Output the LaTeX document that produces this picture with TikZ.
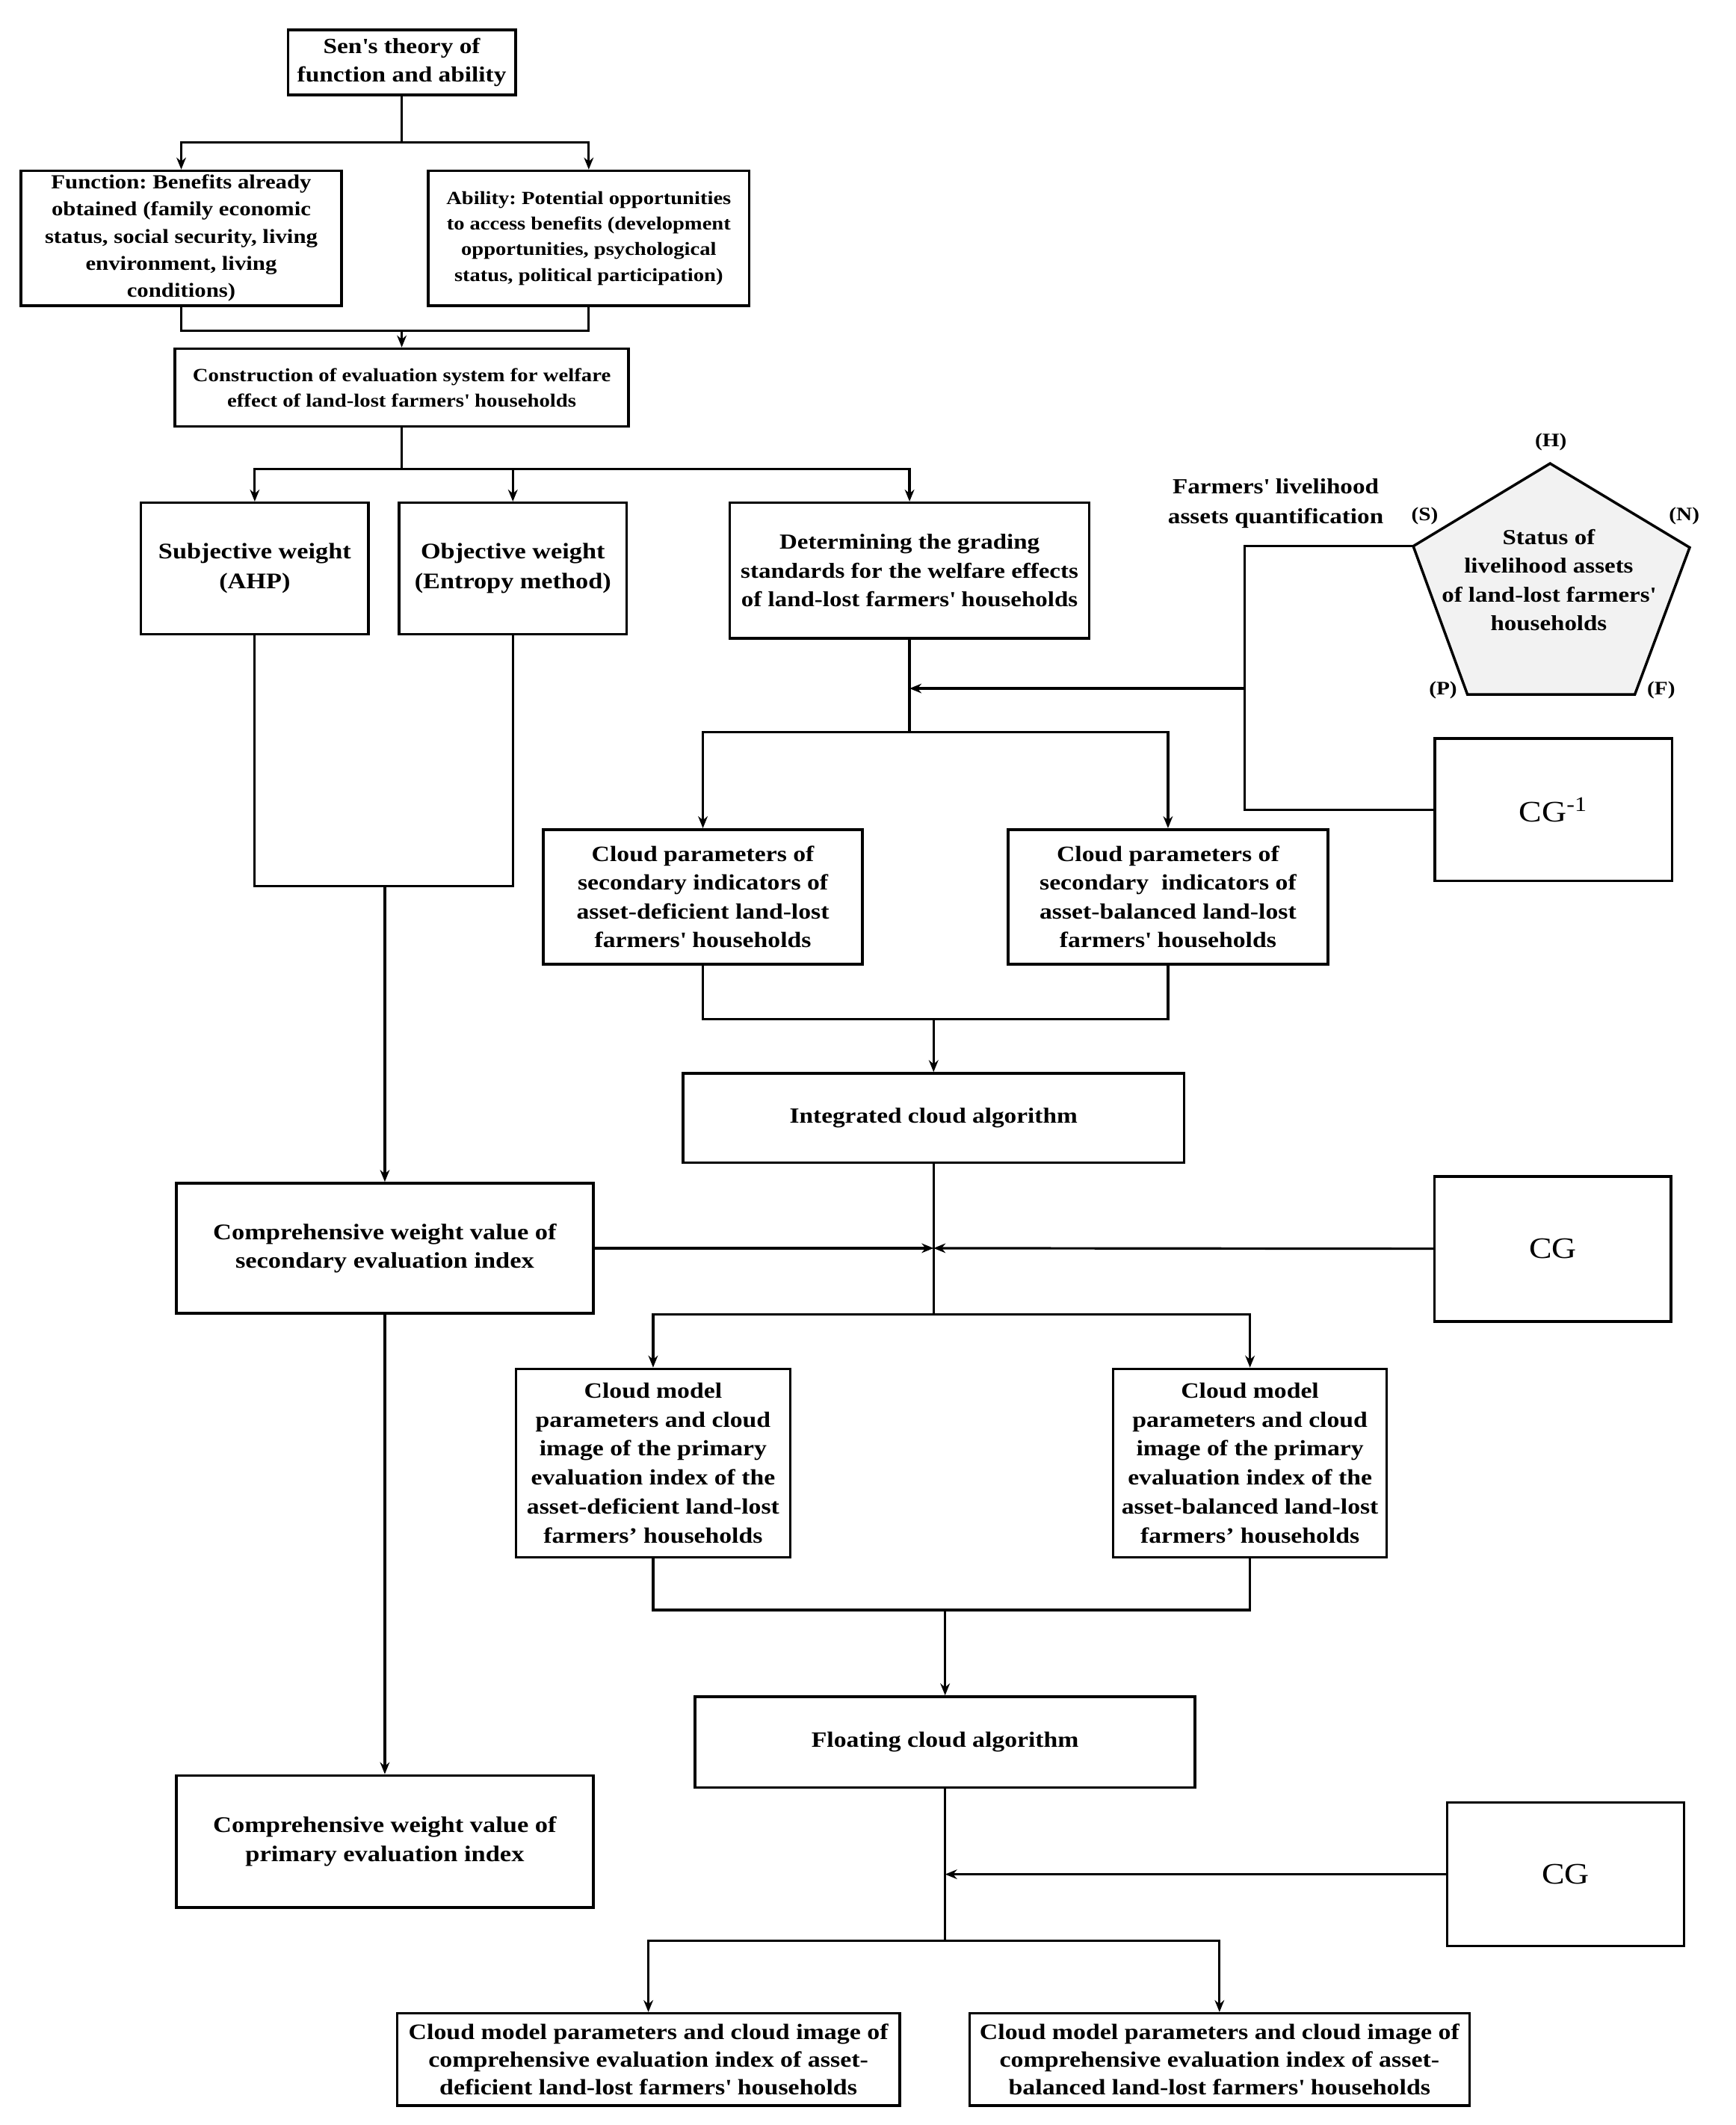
\documentclass[tikz,border=0pt]{standalone}
\usepackage{fontspec}
\setmainfont[FakeStretch=1.15]{Liberation Serif}
\usetikzlibrary{arrows.meta}

\newcommand{\boxfont}[2]{\bfseries\fontsize{#1}{#2}\selectfont}
\newcommand{\sq}{\textquotesingle}
\frenchspacing

\begin{document}
\begin{tikzpicture}[x=0.02cm, y=-0.02cm, >={Stealth[length=5pt,width=4pt]},
    box/.style={draw, line width=1.1pt, align=center, inner sep=1pt},
    conn/.style={line width=1pt},
    tag/.style={font=\boxfont{8}{9}}]
    \useasboundingbox (0,0) rectangle (1281,1568);

    % theory and its two sides
    \node[box, minimum width=3.36cm, minimum height=0.96cm, font=\boxfont{9.1}{12}] (sen) at (296.5,46) {Sen\sq s theory of\\function and ability};
    \node[box, minimum width=4.73cm, minimum height=1.99cm, font=\boxfont{8.4}{11.4}] (func) at (133.75,175.75) {Function: Benefits already\\obtained (family economic\\status, social security, living\\environment, living\\conditions)};
    \node[box, minimum width=4.74cm, minimum height=1.99cm, font=\boxfont{7.8}{10.8}] (abil) at (434.5,175.75) {Ability: Potential opportunities\\to access benefits (development\\opportunities, psychological\\status, political participation)};
    \node[box, minimum width=6.70cm, minimum height=1.15cm, font=\boxfont{7.85}{10.8}] (cons) at (296.5,286) {Construction of evaluation system for welfare\\effect of land-lost farmers\sq{} households};

    % weights and grading standards
    \node[box, minimum width=3.36cm, minimum height=1.94cm, font=\boxfont{9.35}{12.5}] (subj) at (188,419.5) {Subjective weight\\(AHP)};
    \node[box, minimum width=3.36cm, minimum height=1.94cm, font=\boxfont{9.35}{12.5}] (obj) at (378.5,419.5) {Objective weight\\(Entropy method)};
    \node[box, minimum width=5.31cm, minimum height=2.00cm, font=\boxfont{9}{12}] (grad) at (671.25,421) {Determining the grading\\standards for the welfare effects\\of land-lost farmers\sq{} households};

    % livelihood assets pentagon
    \coordinate (H) at (1144,342);
    \coordinate (N) at (1247,404);
    \coordinate (F) at (1206.5,512.5);
    \coordinate (P) at (1083,512.5);
    \coordinate (S) at (1043,403);
    \draw[line width=1.1pt, fill=gray!10] (H) -- (N) -- (F) -- (P) -- (S) -- cycle;
    \node[align=center, font=\boxfont{9}{12.1}] (status) at (1143,428) {Status of\\livelihood assets\\of land-lost farmers\sq\\households};
    \node[tag] (hlab) at (1144.6,326) {(H)};
    \node[tag] (slab) at (1051.5,381) {(S)};
    \node[tag] (nlab) at (1243,381) {(N)};
    \node[tag] (plab) at (1065,509.5) {(P)};
    \node[tag] (flab) at (1226,509.5) {(F)};
    \node[align=center, font=\boxfont{9.05}{12.3}] (quant) at (941.5,371.5) {Farmers\sq{} livelihood\\assets quantification};
    \node[box, minimum width=3.50cm, minimum height=2.10cm, font=\fontsize{12.5}{14}\selectfont] (cginv) at (1146.5,597.5) {CG\textsuperscript{-1}};

    % secondary indicators
    \node[box, minimum width=4.71cm, minimum height=1.99cm, font=\boxfont{9.2}{12}] (cpdef) at (518.75,661.8) {Cloud parameters of\\secondary indicators of\\asset-deficient land-lost\\farmers\sq{} households};
    \node[box, minimum width=4.72cm, minimum height=1.99cm, font=\boxfont{9.2}{12}] (cpbal) at (862,661.8) {Cloud parameters of\\secondary\ \ indicators of\\asset-balanced land-lost\\farmers\sq{} households};
    \node[box, minimum width=7.40cm, minimum height=1.32cm, font=\boxfont{9.1}{12}] (ica) at (689,825) {Integrated cloud algorithm};
    \node[box, minimum width=6.16cm, minimum height=1.92cm, font=\boxfont{9.4}{12}] (cwsec) at (284,921) {Comprehensive weight value of\\secondary evaluation index};
    \node[box, minimum width=3.49cm, minimum height=2.14cm, font=\fontsize{12.5}{14}\selectfont] (cgone) at (1146,921.5) {CG};

    % primary indicators
    \node[box, minimum width=4.05cm, minimum height=2.78cm, font=\boxfont{9.2}{12.2}] (cmdef) at (482,1079.5) {Cloud model\\parameters and cloud\\image of the primary\\evaluation index of the\\asset-deficient land-lost\\farmers' households};
    \node[box, minimum width=4.04cm, minimum height=2.78cm, font=\boxfont{9.2}{12.2}] (cmbal) at (922.5,1079.5) {Cloud model\\parameters and cloud\\image of the primary\\evaluation index of the\\asset-balanced land-lost\\farmers' households};
    \node[box, minimum width=7.38cm, minimum height=1.34cm, font=\boxfont{9.2}{12}] (fca) at (697.5,1285.4) {Floating cloud algorithm};
    \node[box, minimum width=6.16cm, minimum height=1.95cm, font=\boxfont{9.4}{12}] (cwpri) at (284,1358.8) {Comprehensive weight value of\\primary evaluation index};
    \node[box, minimum width=3.50cm, minimum height=2.12cm, font=\fontsize{12.5}{14}\selectfont] (cgtwo) at (1155.5,1383) {CG};

    % comprehensive results
    \node[box, minimum width=7.42cm, minimum height=1.36cm, font=\boxfont{9.25}{11.7}] (resdef) at (478.5,1519.6) {Cloud model parameters and cloud image of\\comprehensive evaluation index of asset-\\deficient land-lost farmers\sq{} households};
    \node[box, minimum width=7.38cm, minimum height=1.36cm, font=\boxfont{9.25}{11.7}] (resbal) at (900,1519.6) {Cloud model parameters and cloud image of\\comprehensive evaluation index of asset-\\balanced land-lost farmers\sq{} households};

    % junction points
    \coordinate (j1) at (296.5,105);
    \coordinate (j2) at (296.5,244);
    \coordinate (j3) at (296.5,346);
    \coordinate (j4) at (284,654);
    \coordinate (j5) at (671.25,540);
    \coordinate (j6) at (671.25,508);
    \coordinate (fa) at (918.5,403);
    \coordinate (fq) at (918.5,508);
    \coordinate (j7) at (689,752);
    \coordinate (j8) at (689,921);
    \coordinate (j9) at (689,970);
    \coordinate (j10) at (697.5,1188);
    \coordinate (j11) at (697.5,1383);
    \coordinate (j12) at (697.5,1432);

    % connectors
    \draw[conn] (sen) -- (j1);
    \draw[conn, ->] (j1) -| (func);
    \draw[conn, ->] (j1) -| (abil);
    \draw[conn] (func) |- (j2) -| (abil);
    \draw[conn, ->] (j2) -- (cons);
    \draw[conn] (cons) -- (j3);
    \draw[conn, ->] (j3) -| (subj);
    \draw[conn, ->] (j3) -| (obj);
    \draw[conn, ->] (j3) -| (grad);
    \draw[conn] (subj) |- (j4) -| (obj);
    \draw[conn, ->] (j4) -- (cwsec);
    \draw[conn] (grad) -- (j5);
    \draw[conn] (S) -- (fa) |- (cginv);
    \draw[conn, ->] (fq) -- (j6);
    \draw[conn, ->] (j5) -| (cpdef);
    \draw[conn, ->] (j5) -| (cpbal);
    \draw[conn] (cpdef) |- (j7) -| (cpbal);
    \draw[conn, ->] (j7) -- (ica);
    \draw[conn] (ica) -- (j9);
    \draw[conn, ->] (cwsec) -- (j8);
    \draw[conn, ->] (cgone) -- (j8);
    \draw[conn, ->] (j9) -| (cmdef);
    \draw[conn, ->] (j9) -| (cmbal);
    \draw[conn] (cmdef) |- (j10) -| (cmbal);
    \draw[conn, ->] (j10) -- (fca);
    \draw[conn, ->] (cwsec) -- (cwpri);
    \draw[conn] (fca) -- (j12);
    \draw[conn, ->] (cgtwo) -- (j11);
    \draw[conn, ->] (j12) -| (resdef);
    \draw[conn, ->] (j12) -| (resbal);
\end{tikzpicture}
\end{document}
